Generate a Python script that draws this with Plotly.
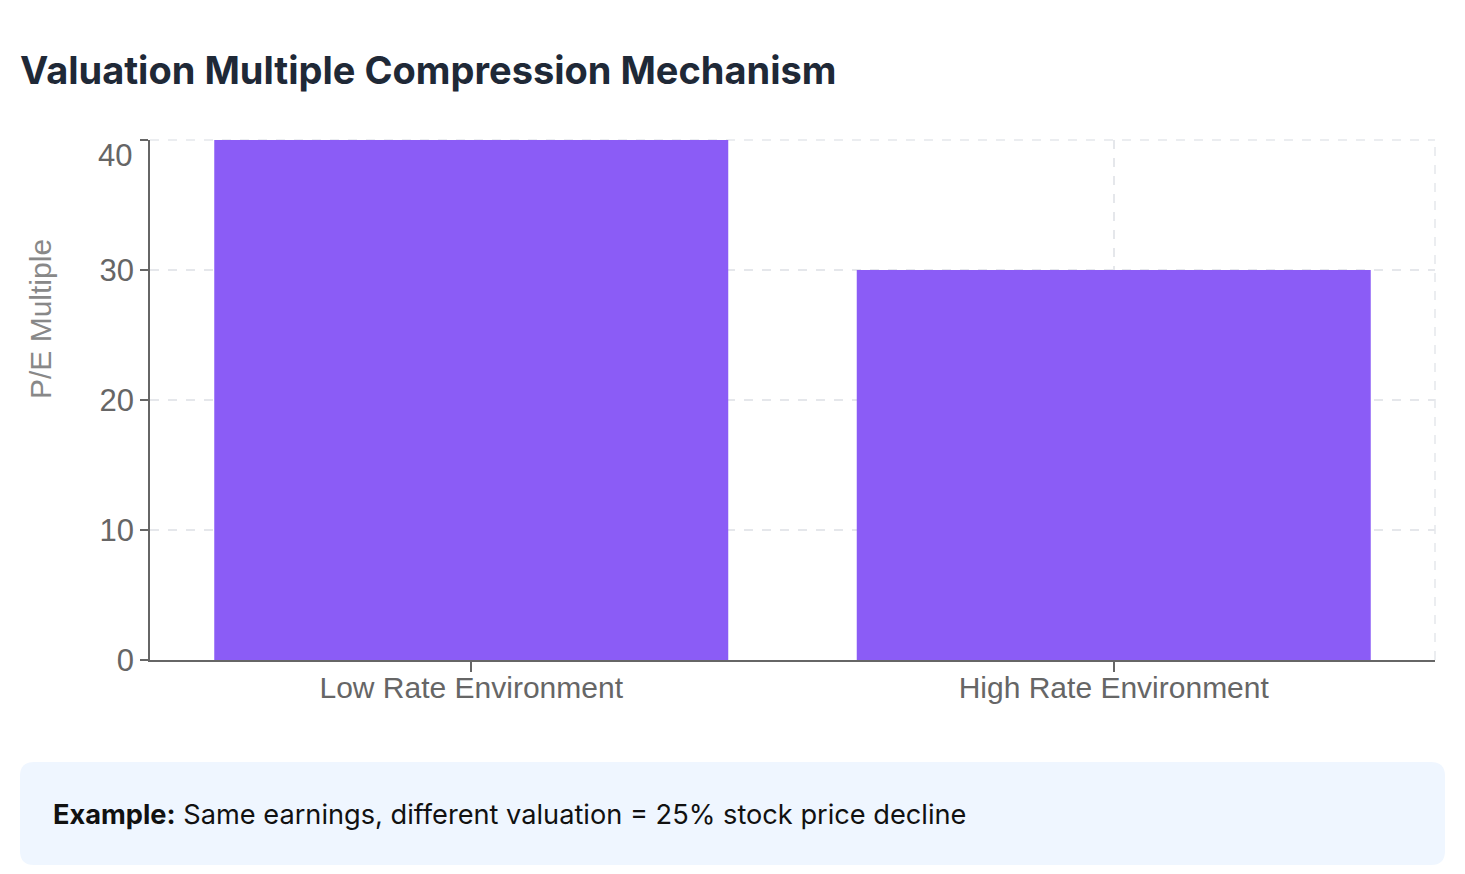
import plotly.graph_objects as go

# chart data
categories = ["Low Rate Environment", "High Rate Environment"]
pe_multiple = [40, 30]
y_ticks = [0, 10, 20, 30, 40]

title_text = "Valuation Multiple Compression Mechanism"
note_text = "<b>Example:</b> Same earnings, different valuation = 25% stock price decline"

# page body has an 8px margin, so work in screenshot pixels and shift
OFF = 8
W, H = 1465 - 2 * OFF, 874 - 2 * OFF
plot_l, plot_r, plot_t, plot_b = 150, 1435, 140, 660
L, T = plot_l - OFF, plot_t - OFF
R, B = W - (plot_r - OFF), H - (plot_b - OFF)
pw, ph = plot_r - plot_l, plot_b - plot_t


def px_x(x):
    return (x - plot_l) / pw


def px_y(y):
    return (plot_b - y) / ph


fig = go.Figure()
fig.add_trace(go.Bar(
    x=categories,
    y=pe_multiple,
    marker_color="#8b5cf6",
    marker_line_width=0,
    hoverinfo="x+y",
))

grid = "#e5e7eb"
axis_font = "Liberation Sans, Arial"
tick_color = "#666666"
fig.update_xaxes(
    showline=True, linecolor=tick_color, linewidth=1.5,
    ticks="outside", ticklen=10, tickcolor=tick_color, tickwidth=1.5,
    ticklabelstandoff=-10,
    showgrid=True, gridcolor=grid, griddash="dash", gridwidth=1.5,
    tickfont=dict(family=axis_font, size=30, color=tick_color),
)
# the top label sits below its tick (kept inside the plot), drawn separately
top_tick = y_ticks[-1]
fig.update_yaxes(
    range=[0, top_tick], tickvals=y_ticks,
    ticktext=[str(v) if v != top_tick else "" for v in y_ticks],
    showline=True, linecolor=tick_color, linewidth=1.5,
    ticks="outside", ticklen=8, tickcolor=tick_color, tickwidth=1.5,
    showgrid=True, gridcolor=grid, griddash="dash", gridwidth=1.5,
    zeroline=False,
    tickfont=dict(family=axis_font, size=31, color=tick_color),
)
fig.add_annotation(
    text=str(top_tick), xref="paper", yref="paper",
    x=px_x(134), y=px_y(155), xanchor="right", yanchor="middle", showarrow=False,
    font=dict(family=axis_font, size=31, color=tick_color),
)

# right and top border of the grid
fig.add_shape(type="line", xref="paper", yref="paper", x0=1, x1=1, y0=0, y1=1,
              line=dict(color=grid, width=1.5, dash="dash"), layer="below")
fig.add_shape(type="line", xref="paper", yref="paper", x0=0, x1=1, y0=1, y1=1,
              line=dict(color=grid, width=1.5, dash="dash"), layer="below")

# note box with rounded corners
bx0, bx1, by0, by1, r = 20, 1445, 762, 865, 14
rx, ry = r / pw, r / ph
x0, x1 = px_x(bx0), px_x(bx1)
y0, y1 = px_y(by1), px_y(by0)
path = (
    f"M {x0 + rx},{y0} L {x1 - rx},{y0} Q {x1},{y0} {x1},{y0 + ry} "
    f"L {x1},{y1 - ry} Q {x1},{y1} {x1 - rx},{y1} "
    f"L {x0 + rx},{y1} Q {x0},{y1} {x0},{y1 - ry} "
    f"L {x0},{y0 + ry} Q {x0},{y0} {x0 + rx},{y0} Z"
)
fig.add_shape(type="path", xref="paper", yref="paper", path=path,
              fillcolor="#eff6ff", line_width=0, layer="below")

fig.add_annotation(
    text=f"<b>{title_text}</b>", xref="paper", yref="paper",
    x=px_x(18), y=px_y(70), xanchor="left", yanchor="middle", showarrow=False,
    font=dict(family="Inter", size=38, color="#1f2937"),
)
fig.add_annotation(
    text="P/E Multiple", xref="paper", yref="paper", textangle=-90,
    x=px_x(40), y=px_y(319), xanchor="center", yanchor="middle", showarrow=False,
    font=dict(family=axis_font, size=30, color="#888888"),
)
fig.add_annotation(
    text=note_text, xref="paper", yref="paper",
    x=px_x(51), y=px_y(814), xanchor="left", yanchor="middle", showarrow=False,
    font=dict(family="Inter", size=27.2, color="#111111"),
)

fig.update_layout(
    width=W, height=H,
    margin=dict(l=L, r=R, t=T, b=B),
    paper_bgcolor="white", plot_bgcolor="white",
    bargap=0.2, showlegend=False,
)

fig.write_html("out.html")
